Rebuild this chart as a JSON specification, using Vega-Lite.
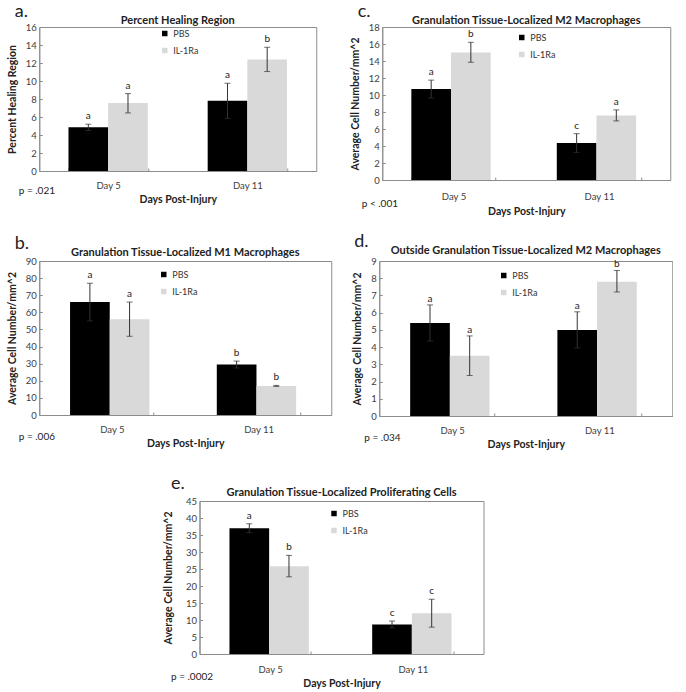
{
"$schema": "https://vega.github.io/schema/vega-lite/v6.json",
"padding": {"left": 6, "top": 2, "right": 0, "bottom": 0},
"background": "white",
"datasets": {"d": [
{"panel":"a","day":"Day 5","group":"PBS","mean":4.85,"lo":4.5,"hi":5.2,"letter":"a"},
{"panel":"a","day":"Day 5","group":"IL-1Ra","mean":7.55,"lo":6.45,"hi":8.6,"letter":"a"},
{"panel":"a","day":"Day 11","group":"PBS","mean":7.8,"lo":5.85,"hi":9.75,"letter":"a"},
{"panel":"a","day":"Day 11","group":"IL-1Ra","mean":12.4,"lo":11.05,"hi":13.75,"letter":"b"},
{"panel":"b","day":"Day 5","group":"PBS","mean":66,"lo":55,"hi":77,"letter":"a"},
{"panel":"b","day":"Day 5","group":"IL-1Ra","mean":56,"lo":46,"hi":66,"letter":"a"},
{"panel":"b","day":"Day 11","group":"PBS","mean":29.5,"lo":27.5,"hi":31.5,"letter":"b"},
{"panel":"b","day":"Day 11","group":"IL-1Ra","mean":17,"lo":16.7,"hi":17.3,"letter":"b"},
{"panel":"c","day":"Day 5","group":"PBS","mean":10.7,"lo":9.65,"hi":11.75,"letter":"a"},
{"panel":"c","day":"Day 5","group":"IL-1Ra","mean":15.0,"lo":13.85,"hi":16.2,"letter":"b"},
{"panel":"c","day":"Day 11","group":"PBS","mean":4.35,"lo":3.25,"hi":5.45,"letter":"c"},
{"panel":"c","day":"Day 11","group":"IL-1Ra","mean":7.6,"lo":6.95,"hi":8.25,"letter":"a"},
{"panel":"d","day":"Day 5","group":"PBS","mean":5.4,"lo":4.35,"hi":6.45,"letter":"a"},
{"panel":"d","day":"Day 5","group":"IL-1Ra","mean":3.5,"lo":2.35,"hi":4.65,"letter":"a"},
{"panel":"d","day":"Day 11","group":"PBS","mean":5.0,"lo":3.95,"hi":6.05,"letter":"a"},
{"panel":"d","day":"Day 11","group":"IL-1Ra","mean":7.8,"lo":7.2,"hi":8.45,"letter":"b"},
{"panel":"e","day":"Day 5","group":"PBS","mean":37,"lo":35.7,"hi":38.3,"letter":"a"},
{"panel":"e","day":"Day 5","group":"IL-1Ra","mean":25.8,"lo":22.7,"hi":29,"letter":"b"},
{"panel":"e","day":"Day 11","group":"PBS","mean":8.7,"lo":7.7,"hi":9.7,"letter":"c"},
{"panel":"e","day":"Day 11","group":"IL-1Ra","mean":12,"lo":7.9,"hi":16.1,"letter":"c"}
]},
"config": {
  "font": "Lato",
  "view": {"stroke": "#8c8c8c"},
  "axis": {"labelFont": "Lato", "labelFontSize": 9.5, "labelColor": "#404040", "titleFont": "Lato", "titleFontSize": 10.5, "titleFontWeight": "bold", "titleColor": "#222", "domainColor": "#8c8c8c", "tickColor": "#8c8c8c", "grid": false},
  "axisX": {"ticks": true, "tickBand": "extent", "tickSize": -3, "labelAngle": 0, "labelPadding": 12, "titlePadding": 5},
  "axisY": {"tickSize": -3, "labelPadding": 6, "titlePadding": 8},
  "legend": {"labelFont": "Lato", "labelFontSize": 9, "labelColor": "#333", "symbolType": "square", "symbolSize": 30, "symbolStrokeWidth": 0, "rowPadding": 7, "labelOffset": 4},
  "title": {"font": "Lato", "color": "#222"}
},
"resolve": {"scale": {"color": "independent"}, "legend": {"color": "independent"}},
"spacing": 23,
"center": true,
"vconcat": [
{
"resolve": {"scale": {"color": "independent"}, "legend": {"color": "independent"}},
"spacing": 14,
"vconcat": [
{
 "resolve": {"scale": {"color": "independent"}, "legend": {"color": "independent"}},
 "spacing": 32,
 "hconcat": [
  {
   "resolve": {"scale": {"color": "independent"}, "legend": {"color": "independent"}},
   "title": {"text": "a.", "anchor": "start", "fontSize": 18, "fontWeight": "normal", "dx": 8, "offset": -6},
   "vconcat": [{
    "resolve": {"scale": {"color": "independent"}, "legend": {"color": "independent"}},
    "title": {"text": "p = .021", "orient": "bottom", "anchor": "start", "fontSize": 10, "fontWeight": "normal", "offset": -20, "dx": 12},
    "vconcat": [{
     "width": 277, "height": 144,
     "title": {"text": "Percent Healing Region", "fontSize": 11, "fontWeight": "bold", "offset": -4},
     "data": {"name": "d"},
     "transform": [{"filter": "datum.panel === 'a'"}],
     "encoding": {
      "x": {"field": "day", "type": "nominal", "sort": ["Day 5", "Day 11"], "scale": {"paddingInner": 0.43, "paddingOuter": 0.21}, "title": "Days Post-Injury"},
      "xOffset": {"field": "group", "type": "nominal", "sort": ["PBS", "IL-1Ra"], "scale": {"paddingInner": 0, "paddingOuter": 0}}
     },
     "layer": [
      {"mark": {"type": "bar"}, "encoding": {"y": {"field": "mean", "type": "quantitative", "scale": {"domain": [0, 16]}, "axis": {"values": [0,2,4,6,8,10,12,14,16], "labelOverlap": false}, "title": "Percent Healing Region"},
        "color": {"field": "group", "type": "nominal", "scale": {"domain": ["PBS", "IL-1Ra"], "range": ["#000000", "#d9d9d9"]}, "legend": {"title": null, "orient": "none", "legendX": 121, "legendY": 2}}}},
      {"mark": {"type": "rule", "color": "#333", "strokeWidth": 1}, "encoding": {"y": {"field": "lo", "type": "quantitative", "title": "Percent Healing Region", "axis": {"values": [0,2,4,6,8,10,12,14,16], "labelOverlap": false}}, "y2": {"field": "hi"}}},
      {"mark": {"type": "tick", "color": "#333", "size": 6, "thickness": 1, "orient": "horizontal"}, "encoding": {"y": {"field": "hi", "type": "quantitative", "title": "Percent Healing Region", "axis": {"values": [0,2,4,6,8,10,12,14,16], "labelOverlap": false}}}},
      {"mark": {"type": "tick", "color": "#333", "size": 6, "thickness": 1, "orient": "horizontal"}, "encoding": {"y": {"field": "lo", "type": "quantitative", "title": "Percent Healing Region", "axis": {"values": [0,2,4,6,8,10,12,14,16], "labelOverlap": false}}}},
      {"mark": {"type": "text", "dy": -3, "baseline": "bottom", "fontSize": 10, "color": "#222"}, "encoding": {"y": {"field": "hi", "type": "quantitative", "title": "Percent Healing Region", "axis": {"values": [0,2,4,6,8,10,12,14,16], "labelOverlap": false}}, "text": {"field": "letter"}}}
     ]
    }]
   }]
  },
  {
   "resolve": {"scale": {"color": "independent"}, "legend": {"color": "independent"}},
   "title": {"text": "c.", "anchor": "start", "fontSize": 18, "fontWeight": "normal", "dx": 8, "offset": -6},
   "vconcat": [{
    "resolve": {"scale": {"color": "independent"}, "legend": {"color": "independent"}},
    "title": {"text": "p < .001", "orient": "bottom", "anchor": "start", "fontSize": 10, "fontWeight": "normal", "offset": -19, "dx": 12},
    "vconcat": [{
     "width": 288, "height": 153,
     "title": {"text": "Granulation Tissue-Localized M2 Macrophages", "fontSize": 11, "fontWeight": "bold", "offset": -4},
     "data": {"name": "d"},
     "transform": [{"filter": "datum.panel === 'c'"}],
     "encoding": {
      "x": {"field": "day", "type": "nominal", "sort": ["Day 5", "Day 11"], "scale": {"paddingInner": 0.42, "paddingOuter": 0.2}, "title": "Days Post-Injury", "axis": {"labelPadding": 14, "titlePadding": 6}},
      "xOffset": {"field": "group", "type": "nominal", "sort": ["PBS", "IL-1Ra"], "scale": {"paddingInner": 0, "paddingOuter": 0}}
     },
     "layer": [
      {"mark": {"type": "bar"}, "encoding": {"y": {"field": "mean", "type": "quantitative", "scale": {"domain": [0, 18]}, "axis": {"values": [0,2,4,6,8,10,12,14,16,18], "labelOverlap": false}, "title": "Average Cell Number/mm^2"},
        "color": {"field": "group", "type": "nominal", "scale": {"domain": ["PBS", "IL-1Ra"], "range": ["#000000", "#d9d9d9"]}, "legend": {"title": null, "orient": "none", "legendX": 135, "legendY": 6}}}},
      {"mark": {"type": "rule", "color": "#333", "strokeWidth": 1}, "encoding": {"y": {"field": "lo", "type": "quantitative", "title": "Average Cell Number/mm^2", "axis": {"values": [0,2,4,6,8,10,12,14,16,18], "labelOverlap": false}}, "y2": {"field": "hi"}}},
      {"mark": {"type": "tick", "color": "#333", "size": 6, "thickness": 1, "orient": "horizontal"}, "encoding": {"y": {"field": "hi", "type": "quantitative", "title": "Average Cell Number/mm^2", "axis": {"values": [0,2,4,6,8,10,12,14,16,18], "labelOverlap": false}}}},
      {"mark": {"type": "tick", "color": "#333", "size": 6, "thickness": 1, "orient": "horizontal"}, "encoding": {"y": {"field": "lo", "type": "quantitative", "title": "Average Cell Number/mm^2", "axis": {"values": [0,2,4,6,8,10,12,14,16,18], "labelOverlap": false}}}},
      {"mark": {"type": "text", "dy": -3, "baseline": "bottom", "fontSize": 10, "color": "#222"}, "encoding": {"y": {"field": "hi", "type": "quantitative", "title": "Average Cell Number/mm^2", "axis": {"values": [0,2,4,6,8,10,12,14,16,18], "labelOverlap": false}}, "text": {"field": "letter"}}}
     ]
    }]
   }]
  }
 ]
},
{
 "resolve": {"scale": {"color": "independent"}, "legend": {"color": "independent"}},
 "spacing": 19,
 "hconcat": [
  {
   "resolve": {"scale": {"color": "independent"}, "legend": {"color": "independent"}},
   "title": {"text": "b.", "anchor": "start", "fontSize": 18, "fontWeight": "normal", "dx": 8, "offset": -6},
   "vconcat": [{
    "resolve": {"scale": {"color": "independent"}, "legend": {"color": "independent"}},
    "title": {"text": "p = .006", "orient": "bottom", "anchor": "start", "fontSize": 10, "fontWeight": "normal", "offset": -18, "dx": 12},
    "vconcat": [{
     "width": 292, "height": 154,
     "title": {"text": "Granulation Tissue-Localized M1 Macrophages", "fontSize": 11, "fontWeight": "bold", "offset": -2},
     "data": {"name": "d"},
     "transform": [{"filter": "datum.panel === 'b'"}],
     "encoding": {
      "x": {"field": "day", "type": "nominal", "sort": ["Day 5", "Day 11"], "scale": {"paddingInner": 0.43, "paddingOuter": 0.21}, "title": "Days Post-Injury"},
      "xOffset": {"field": "group", "type": "nominal", "sort": ["PBS", "IL-1Ra"], "scale": {"paddingInner": 0, "paddingOuter": 0}}
     },
     "layer": [
      {"mark": {"type": "bar"}, "encoding": {"y": {"field": "mean", "type": "quantitative", "scale": {"domain": [0, 90]}, "axis": {"values": [0,10,20,30,40,50,60,70,80,90], "labelOverlap": false}, "title": "Average Cell Number/mm^2"},
        "color": {"field": "group", "type": "nominal", "scale": {"domain": ["PBS", "IL-1Ra"], "range": ["#000000", "#d9d9d9"]}, "legend": {"title": null, "orient": "none", "legendX": 120, "legendY": 9}}}},
      {"mark": {"type": "rule", "color": "#333", "strokeWidth": 1}, "encoding": {"y": {"field": "lo", "type": "quantitative", "title": "Average Cell Number/mm^2", "axis": {"values": [0,10,20,30,40,50,60,70,80,90], "labelOverlap": false}}, "y2": {"field": "hi"}}},
      {"mark": {"type": "tick", "color": "#333", "size": 6, "thickness": 1, "orient": "horizontal"}, "encoding": {"y": {"field": "hi", "type": "quantitative", "title": "Average Cell Number/mm^2", "axis": {"values": [0,10,20,30,40,50,60,70,80,90], "labelOverlap": false}}}},
      {"mark": {"type": "tick", "color": "#333", "size": 6, "thickness": 1, "orient": "horizontal"}, "encoding": {"y": {"field": "lo", "type": "quantitative", "title": "Average Cell Number/mm^2", "axis": {"values": [0,10,20,30,40,50,60,70,80,90], "labelOverlap": false}}}},
      {"mark": {"type": "text", "dy": -3, "baseline": "bottom", "fontSize": 10, "color": "#222"}, "encoding": {"y": {"field": "hi", "type": "quantitative", "title": "Average Cell Number/mm^2", "axis": {"values": [0,10,20,30,40,50,60,70,80,90], "labelOverlap": false}}, "text": {"field": "letter"}}}
     ]
    }]
   }]
  },
  {
   "resolve": {"scale": {"color": "independent"}, "legend": {"color": "independent"}},
   "title": {"text": "d.", "anchor": "start", "fontSize": 18, "fontWeight": "normal", "dx": 2, "offset": -6},
   "vconcat": [{
    "resolve": {"scale": {"color": "independent"}, "legend": {"color": "independent"}},
    "title": {"text": "p = .034", "orient": "bottom", "anchor": "start", "fontSize": 10, "fontWeight": "normal", "offset": -18, "dx": 12},
    "vconcat": [{
     "width": 293, "height": 155,
     "title": {"text": "Outside Granulation Tissue-Localized M2 Macrophages", "fontSize": 11, "fontWeight": "bold", "offset": 0},
     "data": {"name": "d"},
     "transform": [{"filter": "datum.panel === 'd'"}],
     "encoding": {
      "x": {"field": "day", "type": "nominal", "sort": ["Day 5", "Day 11"], "scale": {"paddingInner": 0.43, "paddingOuter": 0.21}, "title": "Days Post-Injury"},
      "xOffset": {"field": "group", "type": "nominal", "sort": ["PBS", "IL-1Ra"], "scale": {"paddingInner": 0, "paddingOuter": 0}}
     },
     "layer": [
      {"mark": {"type": "bar"}, "encoding": {"y": {"field": "mean", "type": "quantitative", "scale": {"domain": [0, 9]}, "axis": {"values": [0,1,2,3,4,5,6,7,8,9], "labelOverlap": false}, "title": "Average Cell Number/mm^2"},
        "color": {"field": "group", "type": "nominal", "scale": {"domain": ["PBS", "IL-1Ra"], "range": ["#000000", "#d9d9d9"]}, "legend": {"title": null, "orient": "none", "legendX": 120, "legendY": 10}}}},
      {"mark": {"type": "rule", "color": "#333", "strokeWidth": 1}, "encoding": {"y": {"field": "lo", "type": "quantitative", "title": "Average Cell Number/mm^2", "axis": {"values": [0,1,2,3,4,5,6,7,8,9], "labelOverlap": false}}, "y2": {"field": "hi"}}},
      {"mark": {"type": "tick", "color": "#333", "size": 6, "thickness": 1, "orient": "horizontal"}, "encoding": {"y": {"field": "hi", "type": "quantitative", "title": "Average Cell Number/mm^2", "axis": {"values": [0,1,2,3,4,5,6,7,8,9], "labelOverlap": false}}}},
      {"mark": {"type": "tick", "color": "#333", "size": 6, "thickness": 1, "orient": "horizontal"}, "encoding": {"y": {"field": "lo", "type": "quantitative", "title": "Average Cell Number/mm^2", "axis": {"values": [0,1,2,3,4,5,6,7,8,9], "labelOverlap": false}}}},
      {"mark": {"type": "text", "dy": -1, "baseline": "bottom", "fontSize": 10, "color": "#222"}, "encoding": {"y": {"field": "hi", "type": "quantitative", "title": "Average Cell Number/mm^2", "axis": {"values": [0,1,2,3,4,5,6,7,8,9], "labelOverlap": false}}, "text": {"field": "letter"}}}
     ]
    }]
   }]
  }
 ]
}
]
},
{
 "resolve": {"scale": {"color": "independent"}, "legend": {"color": "independent"}},
 "spacing": 0,
 "hconcat": [
 {
 "resolve": {"scale": {"color": "independent"}, "legend": {"color": "independent"}},
 "title": {"text": "e.", "anchor": "start", "fontSize": 18, "fontWeight": "normal", "dx": 8, "offset": -6},
 "vconcat": [{
  "resolve": {"scale": {"color": "independent"}, "legend": {"color": "independent"}},
  "title": {"text": "p  = .0002", "orient": "bottom", "anchor": "start", "fontSize": 10, "fontWeight": "normal", "offset": -18, "dx": 8},
  "vconcat": [{
   "width": 284, "height": 153,
   "title": {"text": "Granulation Tissue-Localized Proliferating Cells", "fontSize": 11, "fontWeight": "bold", "offset": -2},
   "data": {"name": "d"},
   "transform": [{"filter": "datum.panel === 'e'"}],
   "encoding": {
    "x": {"field": "day", "type": "nominal", "sort": ["Day 5", "Day 11"], "scale": {"paddingInner": 0.43, "paddingOuter": 0.21}, "title": "Days Post-Injury", "axis": {"labelPadding": 13, "titlePadding": 5}},
    "xOffset": {"field": "group", "type": "nominal", "sort": ["PBS", "IL-1Ra"], "scale": {"paddingInner": 0, "paddingOuter": 0}}
   },
   "layer": [
    {"mark": {"type": "bar"}, "encoding": {"y": {"field": "mean", "type": "quantitative", "scale": {"domain": [0, 45]}, "axis": {"values": [0,5,10,15,20,25,30,35,40,45], "labelOverlap": false, "titlePadding": 12}, "title": "Average Cell Number/mm^2"},
      "color": {"field": "group", "type": "nominal", "scale": {"domain": ["PBS", "IL-1Ra"], "range": ["#000000", "#d9d9d9"]}, "legend": {"title": null, "orient": "none", "legendX": 130, "legendY": 8}}}},
    {"mark": {"type": "rule", "color": "#333", "strokeWidth": 1}, "encoding": {"y": {"field": "lo", "type": "quantitative", "title": "Average Cell Number/mm^2", "axis": {"values": [0,5,10,15,20,25,30,35,40,45], "labelOverlap": false, "titlePadding": 12}}, "y2": {"field": "hi"}}},
    {"mark": {"type": "tick", "color": "#333", "size": 6, "thickness": 1, "orient": "horizontal"}, "encoding": {"y": {"field": "hi", "type": "quantitative", "title": "Average Cell Number/mm^2", "axis": {"values": [0,5,10,15,20,25,30,35,40,45], "labelOverlap": false, "titlePadding": 12}}}},
    {"mark": {"type": "tick", "color": "#333", "size": 6, "thickness": 1, "orient": "horizontal"}, "encoding": {"y": {"field": "lo", "type": "quantitative", "title": "Average Cell Number/mm^2", "axis": {"values": [0,5,10,15,20,25,30,35,40,45], "labelOverlap": false, "titlePadding": 12}}}},
    {"mark": {"type": "text", "dy": -3, "baseline": "bottom", "fontSize": 10, "color": "#222"}, "encoding": {"y": {"field": "hi", "type": "quantitative", "title": "Average Cell Number/mm^2", "axis": {"values": [0,5,10,15,20,25,30,35,40,45], "labelOverlap": false, "titlePadding": 12}}, "text": {"field": "letter"}}}
   ]
  }]
 }]
 },
 {
  "width": 28, "height": 10,
  "view": {"stroke": null},
  "data": {"values": []},
  "mark": {"type": "point", "opacity": 0},
  "encoding": {}
 }
 ]
}
]
}
